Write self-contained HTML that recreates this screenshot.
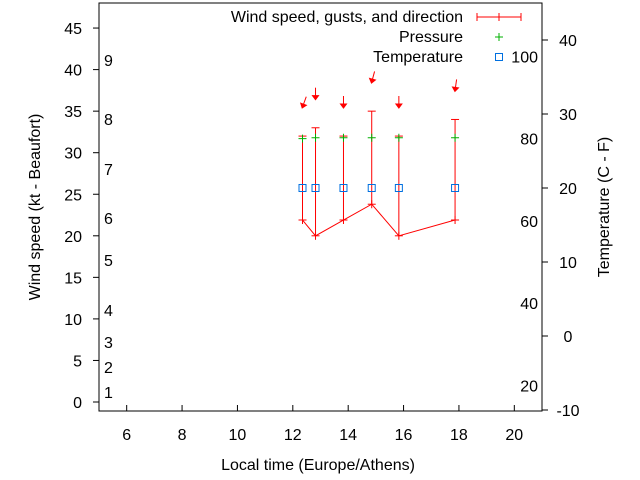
<!DOCTYPE html>
<html><head><meta charset="utf-8"><style>
body{margin:0;background:#fff}
svg{display:block;font-family:"Liberation Sans",sans-serif;font-size:16px}
</style></head><body>
<svg id="chart" width="640" height="480" viewBox="0 0 640 480">
<rect x="0" y="0" width="640" height="480" fill="#fff"/>
<g id="axes"></g>
<g id="marks"></g>
<g>
<text x="463" y="22" text-anchor="end">Wind speed, gusts, and direction</text>
<line x1="477" y1="17" x2="521" y2="17" stroke="red"/><line x1="477" y1="13" x2="477" y2="21" stroke="red"/><line x1="521" y1="13" x2="521" y2="21" stroke="red"/><line x1="499" y1="13" x2="499" y2="21" stroke="red"/>
<text x="463" y="42" text-anchor="end">Pressure</text>
<path d="M495 37h8M499 33v8" stroke="#00b000"/>
<text x="463" y="62" text-anchor="end">Temperature</text>
<rect x="495.5" y="53.5" width="7" height="7" fill="none" stroke="#0070e0"/>
</g>
<text x="318" y="470" text-anchor="middle">Local time (Europe/Athens)</text>
<text transform="translate(40,207) rotate(-90)" text-anchor="middle">Wind speed (kt - Beaufort)</text>
<text transform="translate(609,207) rotate(-90)" text-anchor="middle">Temperature (C - F)</text>
</svg>
<script>
const times=[12.35,12.82,13.83,14.85,15.83,17.86];
const wind=[21.9,20,21.9,23.8,20,21.9];
const gusts=[32,33,32,35,32,34];
const pressure=[31.7,31.8,31.8,31.8,31.8,31.8];
const tempC=[20,20,20,20,20,20];
const dirDeg=[20,0,0,15,0,8];
const xTicks=[6,8,10,12,14,16,18,20];
const yTicks=[0,5,10,15,20,25,30,35,40,45];
const y2Ticks=[-10,0,10,20,30,40];
const fTicks=[20,40,60,80,100];
const beaufort=[1,2,3,4,5,6,7,8,9];
const L=99,R=542,T=3,B=411;
const X=v=>L+(v-5)/16*(R-L);
const Y=v=>402-v*8.31;
const Y2=c=>410-(c+10)*7.4;
const NS="http://www.w3.org/2000/svg";
function mk(p,tag,a){const e=document.createElementNS(NS,tag);for(const k in a)e.setAttribute(k,a[k]);p.appendChild(e);return e;}
const ax=document.getElementById('axes'),mg=document.getElementById('marks');
let fr=mk(ax,'rect',{x:L,y:T,width:R-L,height:B-T,fill:'none',stroke:'#000'});


xTicks.forEach(v=>{mk(ax,'line',{x1:X(v),y1:B,x2:X(v),y2:B-6,stroke:'#000'});
let t=mk(ax,'text',{x:X(v),y:B+29,'text-anchor':'middle'});t.textContent=v;

});
yTicks.forEach(v=>{mk(ax,'line',{x1:L-6,y1:Y(v),x2:L,y2:Y(v),stroke:'#000'});
let t=mk(ax,'text',{x:82,y:Y(v)+6,'text-anchor':'end'});t.textContent=v;

});
y2Ticks.forEach(v=>{mk(ax,'line',{x1:R,y1:Y2(v),x2:R+6,y2:Y2(v),stroke:'#000'});
let t=mk(ax,'text',{x:568,y:Y2(v)+6,'text-anchor':'middle'});t.textContent=v;

});
fTicks.forEach(f=>{let c=(f-32)*5/9;let t=mk(ax,'text',{x:538,y:Y2(c)+6,'text-anchor':'end'});t.textContent=f;

});
const bfY=[0,398,373,348,316,266,224,175,125,66];
beaufort.forEach(b=>{
let t=mk(ax,'text',{x:104,y:bfY[b]});t.textContent=b;

});
let pts=times.map((t,i)=>X(t)+','+Y(wind[i])).join(' ');
let pl=mk(mg,'polyline',{points:pts,fill:'none',stroke:'red'});


times.forEach((t,i)=>{const x=X(t);
let g=mk(mg,'g',{});


mk(g,'line',{x1:x,y1:Y(wind[i]),x2:x,y2:Y(gusts[i]),stroke:'red'});
mk(g,'line',{x1:x-4,y1:Y(gusts[i]),x2:x+4,y2:Y(gusts[i]),stroke:'red'});
mk(g,'line',{x1:x-4,y1:Y(wind[i]),x2:x+4,y2:Y(wind[i]),stroke:'red'});
mk(g,'line',{x1:x,y1:Y(wind[i])-4,x2:x,y2:Y(wind[i])+4,stroke:'red'});
let p=mk(mg,'path',{d:`M${x-4} ${Y(pressure[i])}h8M${x} ${Y(pressure[i])-4}v8`,stroke:'#00b000'});


let s=mk(mg,'rect',{x:x-3.5,y:Y2(tempC[i])-3.5,width:7,height:7,fill:'none',stroke:'#0070e0'});


let a=mk(mg,'g',{transform:`translate(${x},${Y(gusts[i]+3.5)}) rotate(${dirDeg[i]})`});


mk(a,'line',{x1:0,y1:-11,x2:0,y2:0,stroke:'red'});
mk(a,'path',{d:'M-3 -3L0 1L3 -3Z',fill:'red',stroke:'red'});
});
</script>
</body></html>
